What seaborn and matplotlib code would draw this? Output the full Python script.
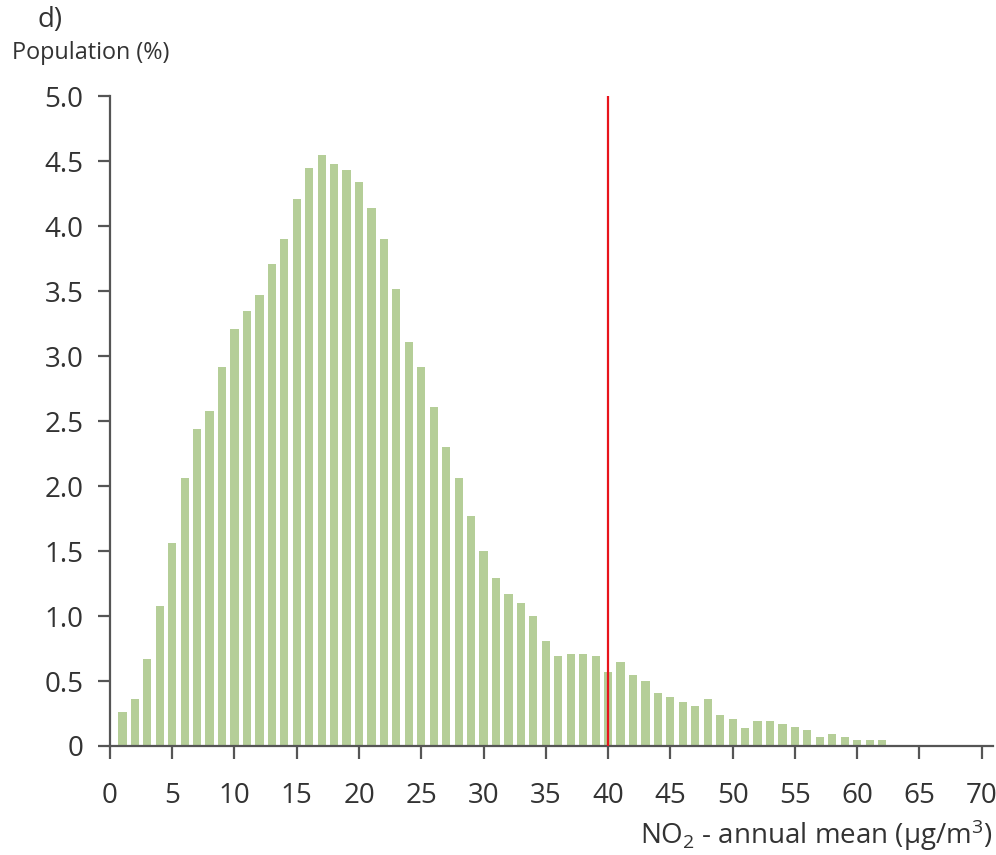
import matplotlib
matplotlib.use("Agg")
import matplotlib.pyplot as plt
import seaborn as sns
import pandas as pd

# NO2 annual mean bins (µg/m3) and share of population (%)
no2_bins = list(range(1, 63))
population_pct = [
    0.26, 0.36, 0.67, 1.08, 1.56, 2.06, 2.44, 2.58, 2.92, 3.21,
    3.35, 3.47, 3.71, 3.90, 4.21, 4.45, 4.55, 4.48, 4.43, 4.34,
    4.14, 3.90, 3.52, 3.11, 2.92, 2.61, 2.30, 2.06, 1.77, 1.50,
    1.29, 1.17, 1.10, 1.00, 0.81, 0.69, 0.71, 0.71, 0.69, 0.57,
    0.65, 0.55, 0.50, 0.41, 0.38, 0.34, 0.31, 0.36, 0.24, 0.21,
    0.14, 0.195, 0.195, 0.17, 0.145, 0.12, 0.07, 0.095, 0.07, 0.046,
    0.046, 0.046,
]
limit_value = 40
x_ticks = list(range(0, 75, 5))
y_ticks = [0, 0.5, 1.0, 1.5, 2.0, 2.5, 3.0, 3.5, 4.0, 4.5, 5.0]
y_tick_labels = ["0", "0.5", "1.0", "1.5", "2.0", "2.5", "3.0", "3.5", "4.0", "4.5", "5.0"]

sns.set_theme(style="white")
plt.rcParams["font.family"] = ["Open Sans", "DejaVu Sans"]
plt.rcParams["mathtext.fontset"] = "custom"
plt.rcParams["mathtext.rm"] = "Open Sans"
plt.rcParams["mathtext.it"] = "Open Sans:italic"

TEXT = "#333333"
SPINE = "#555555"

df = pd.DataFrame({"no2": no2_bins, "pop": population_pct})

fig = plt.figure(figsize=(9.96, 8.55), dpi=100)
ax = fig.add_axes([0.1104, 0.1275, 0.8865, 0.760])

sns.barplot(data=df, x="no2", y="pop", native_scale=True, width=0.66,
            color="#b5ce98", saturation=1, edgecolor="none", ax=ax)
ax.axvline(limit_value, color="#e8141c", lw=1.6, zorder=5)

ax.set_xlim(0, 70.9)
ax.set_ylim(0, 5.0)
ax.set_xticks(x_ticks)
ax.set_xticklabels([str(t) for t in x_ticks])
ax.set_yticks(y_ticks)
ax.set_yticklabels(y_tick_labels)

for s in ["top", "right"]:
    ax.spines[s].set_visible(False)
for s in ["left", "bottom"]:
    ax.spines[s].set_color(SPINE)
    ax.spines[s].set_linewidth(1.6)

ax.tick_params(axis="both", which="major", direction="out", length=9,
               width=1.6, color=SPINE, labelsize=20, labelcolor=TEXT,
               left=True, bottom=True)
ax.tick_params(axis="x", pad=17)
ax.tick_params(axis="y", pad=10)

ax.set_xlabel("")
ax.set_ylabel("")

fig.text(0.1104 + 0.8865, 0.002, r"NO$_2$ - annual mean (µg/m$^3$)",
         ha="right", va="bottom", fontsize=20, color=TEXT)
fig.text(0.012, 0.924, "Population (%)", ha="left", va="bottom",
         fontsize=16.8, color=TEXT)
fig.text(0.038, 0.960, "d)", ha="left", va="bottom", fontsize=20, color=TEXT)

fig.savefig("out.png", dpi=100)
